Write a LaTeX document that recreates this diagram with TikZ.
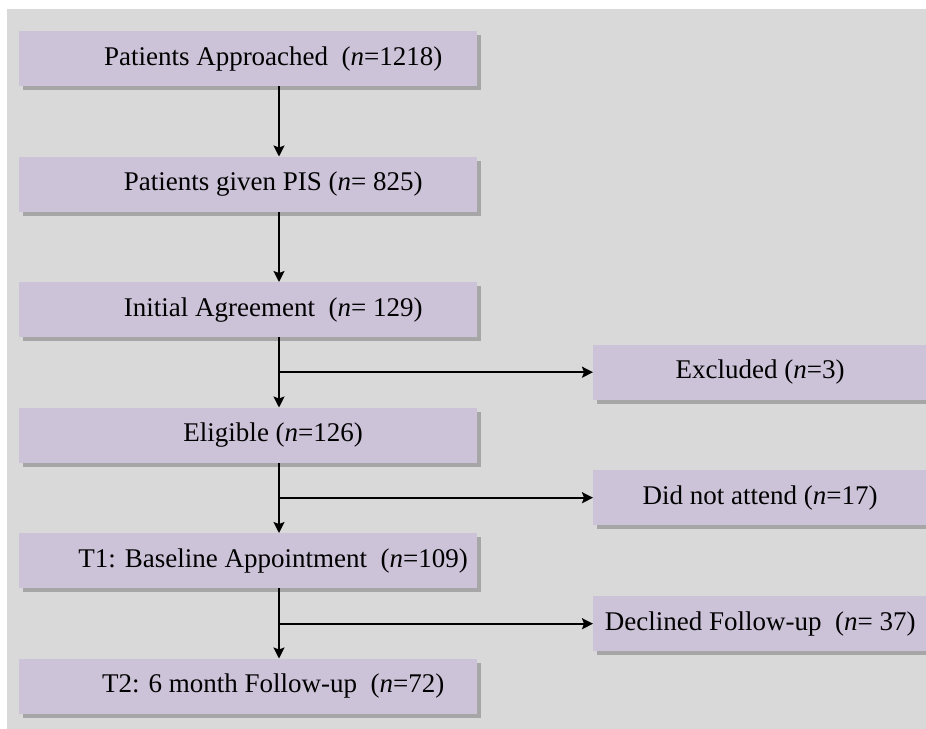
\documentclass[tikz,border=0pt]{standalone}
\usepackage{fontspec}
\setmainfont{Liberation Serif}
\usetikzlibrary{arrows.meta,shadows}

\definecolor{pagegray}{RGB}{217,217,217}
\definecolor{boxfill}{RGB}{204,195,217}
\definecolor{shadegray}{RGB}{166,166,166}

\tikzset{
  flowbox/.style={draw=none, fill=boxfill, anchor=north west,
    minimum height=55pt, inner sep=0pt,
    font=\fontsize{27}{31}\selectfont,
    drop shadow={shadow xshift=4pt, shadow yshift=-4pt, fill=shadegray, opacity=1}},
  mainbox/.style={flowbox, minimum width=458pt, execute at begin node={\hspace*{50pt}}},
  sidebox/.style={flowbox, minimum width=334pt},
  link/.style={line width=1.9pt, -{Stealth[length=11pt,width=11pt,inset=2pt]}},
}

\begin{document}
\begin{tikzpicture}[x=1pt,y=-1pt]
  \useasboundingbox (0,0) rectangle (926,728);
  % grey panel behind the chart
  \fill[pagegray] (7,9) rectangle (950,750);

  % vertical spine of the flow
  \coordinate (spine) at (279,0);

  % main stages
  \node[mainbox] (appr) at (19,31)    {Patients Approached~ (\textit{n}=1218)};
  \node[mainbox] (pis)  at (19,156.5) {Patients given PIS (\textit{n}= 825)};
  \node[mainbox] (agr)  at (19,282)   {Initial Agreement~ (\textit{n}= 129)};
  \node[mainbox] (elig) at (19,407.5) {Eligible (\textit{n}=126)};
  \node[mainbox] (tone) at (19,533)   {T1: Baseline Appointment~ (\textit{n}=109)};
  \node[mainbox] (ttwo) at (19,658.5) {T2: 6 month Follow-up~ (\textit{n}=72)};

  % drop-outs
  \node[sidebox] (excl) at (593,344.5) {Excluded (\textit{n}=3)};
  \node[sidebox] (dna)  at (593,470)   {Did not attend (\textit{n}=17)};
  \node[sidebox] (decl) at (593,596)   {Declined Follow-up~ (\textit{n}= 37)};

  % main flow
  \draw[link] (appr.south -| spine) -- (pis.north -| spine);
  \draw[link] (pis.south -| spine)  -- (agr.north -| spine);
  \draw[link] (agr.south -| spine)  -- (elig.north -| spine);
  \draw[link] (elig.south -| spine) -- (tone.north -| spine);
  \draw[link] (tone.south -| spine) -- (ttwo.north -| spine);

  % branches to drop-outs
  \draw[link] (spine |- excl.west) -- (excl.west);
  \draw[link] (spine |- dna.west)  -- (dna.west);
  \draw[link] (spine |- decl.west) -- (decl.west);
\end{tikzpicture}
\end{document}
